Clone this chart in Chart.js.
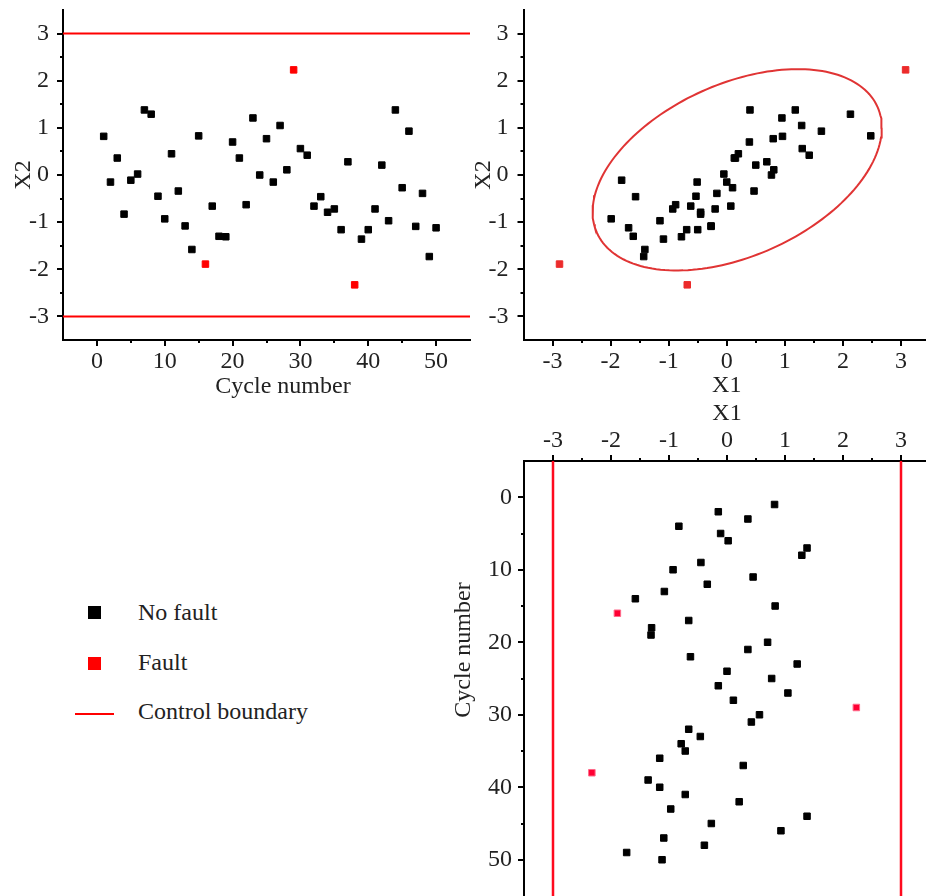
<!DOCTYPE html>
<html>
<head>
<meta charset="utf-8">
<script src="https://cdn.jsdelivr.net/npm/chart.js@4.4.1/dist/chart.umd.min.js"></script>
<style>
  html, body { margin: 0; padding: 0; background: #fff; width: 926px; height: 896px; overflow: hidden; }
  #wrap { position: relative; width: 926px; height: 896px; overflow: hidden; }
  canvas { position: absolute; }
  #panelA { left: 0; top: 0; }
  #panelB { left: 460px; top: 0; }
  #panelC { left: 430px; top: 390px; }
  .legend { position: absolute; font-family: "Liberation Serif", serif; font-size: 24px; line-height: 28px; color: #222; white-space: nowrap; }
  .mark { position: absolute; }
</style>
</head>
<body>
<div id="wrap">
  <canvas id="panelA" width="480" height="410"></canvas>
  <canvas id="panelB" width="480" height="410"></canvas>
  <canvas id="panelC" width="510" height="506"></canvas>

  <div class="mark" style="left:88px;top:606px;width:13px;height:13px;background:#000"></div>
  <div class="legend" style="left:138px;top:598px">No fault</div>
  <div class="mark" style="left:88px;top:657px;width:13px;height:13px;background:#ff0000"></div>
  <div class="legend" style="left:138px;top:648px">Fault</div>
  <div class="mark" style="left:75px;top:713px;width:39px;height:2px;background:#ff0000"></div>
  <div class="legend" style="left:138px;top:697px">Control boundary</div>
</div>

<script>
// Values
const cycles = [1, 2, 3, 4, 5, 6, 7, 8, 9, 10,
  11, 12, 13, 14, 15, 16, 17, 18, 19, 20,
  21, 22, 23, 24, 25, 26, 27, 28, 29, 30,
  31, 32, 33, 34, 35, 36, 37, 38, 39, 40,
  41, 42, 43, 44, 45, 46, 47, 48, 49, 50];
const x2Values = [0.82, -0.15, 0.36, -0.83, -0.11, 0.02, 1.38, 1.29, -0.45, -0.93,
  0.45, -0.34, -1.08, -1.58, 0.83, -1.89, -0.66, -1.30, -1.31, 0.70,
  0.36, -0.63, 1.21, 0.00, 0.77, -0.15, 1.05, 0.11, 2.23, 0.56,
  0.42, -0.66, -0.46, -0.79, -0.72, -1.16, 0.28, -2.33, -1.36, -1.16,
  -0.72, 0.21, -0.97, 1.38, -0.27, 0.93, -1.09, -0.39, -1.73, -1.12];
const x1Values = [0.96, 0.00, 0.13, -0.45, -1.81, -0.05, 0.40, 2.13, -0.53, -1.99,
  0.20, 0.47, -0.27, -1.41, 2.48, -2.88, -0.62, -1.61, -0.78, 0.39,
  0.15, -0.88, 0.95, 0.77, 0.80, -0.51, 1.29, 0.81, 3.08, 1.30,
  1.42, 0.07, -1.57, -0.45, -0.93, -0.69, 0.69, -0.68, -1.09, -0.50,
  -0.20, 0.50, -1.15, 1.18, 0.10, 1.63, -0.27, -0.17, -1.43, -1.69];
const faultCycles = [16, 29, 38];
const controlLimits = [-3, 3];

// axes
const cycleRange = [-5, 55];
const valueRange = [-3.5, 3.5];
const cycleTicks = [0, 10, 20, 30, 40, 50];
const cycleMinor = [5, 15, 25, 35, 45];
const valueTicks = [-3, -2, -1, 0, 1, 2, 3];
const valueMinor = [-2.5, -1.5, -0.5, 0.5, 1.5, 2.5];

// control ellipse for (X1, X2)
const ellipseCenter = [0.18, 0.11];
const ellipseCov = [[6.20, 2.22], [2.22, 4.56]];

Chart.defaults.font.family = '"Liberation Serif", serif';
Chart.defaults.font.size = 24;
Chart.defaults.color = '#222';
Chart.defaults.plugins.legend.display = false;
Chart.defaults.plugins.tooltip.enabled = false;

const isFault = c => faultCycles.includes(c);
function points(fx, fy, fault) {
  return cycles.filter(c => isFault(c) === fault).map(c => ({ x: fx(c), y: fy(c) }));
}
const x1 = c => x1Values[c - 1];
const x2 = c => x2Values[c - 1];
const cyc = c => c;

function markers(data, color, border) {
  return {
    data: data, pointStyle: 'rect', pointRadius: 4.6, borderWidth: 1,
    backgroundColor: color, borderColor: border || color
  };
}
function line(data, color, width) {
  return {
    data: data, showLine: true, pointRadius: 0, borderColor: color,
    borderWidth: width, tension: 0, fill: false
  };
}

// build the ellipse outline from center + covariance (Cholesky)
const l11 = Math.sqrt(ellipseCov[0][0]);
const l21 = ellipseCov[1][0] / l11;
const l22 = Math.sqrt(ellipseCov[1][1] - l21 * l21);
const ellipse = [];
for (let i = 0; i <= 180; i++) {
  const t = i / 180 * 2 * Math.PI;
  ellipse.push({
    x: ellipseCenter[0] + l11 * Math.cos(t),
    y: ellipseCenter[1] + l21 * Math.cos(t) + l22 * Math.sin(t)
  });
}

function axis(position, range, major, pad, size, extra) {
  return Object.assign({
    type: 'linear', position: position, min: range[0], max: range[1],
    afterBuildTicks: s => { s.ticks = major.map(v => ({ value: v })); },
    afterFit: s => {
      if (position === 'left') s.width = size; else s.height = size;
      s.paddingTop = s.paddingBottom = s.paddingLeft = s.paddingRight = 0;
    },
    grid: { display: false, drawTicks: false },
    border: { display: true, color: '#000', width: 2 },
    ticks: { padding: pad, autoSkip: false, maxRotation: 0, color: '#222' }
  }, extra || {});
}

// major + minor tick marks, drawn outwards
function tickMarks(spec) {
  return {
    id: 'tickMarks',
    afterDraw(chart) {
      const ctx = chart.ctx;
      ctx.save();
      ctx.strokeStyle = '#000';
      ctx.lineWidth = 2;
      Object.keys(spec).forEach(id => {
        const s = chart.scales[id];
        [[spec[id][0], 6], [spec[id][1], 3]].forEach(([vals, len]) => {
          vals.forEach(v => {
            const p = Math.round(s.getPixelForValue(v));
            ctx.beginPath();
            if (s.position === 'left') { ctx.moveTo(s.right, p); ctx.lineTo(s.right - len, p); }
            else if (s.position === 'bottom') { ctx.moveTo(p, s.top); ctx.lineTo(p, s.top + len); }
            else { ctx.moveTo(p, s.bottom); ctx.lineTo(p, s.bottom - len); }
            ctx.stroke();
          });
        });
      });
      ctx.restore();
    }
  };
}

// axis titles that are not centred on the axis
function freeTitle(text, x, y, rot) {
  return {
    id: 'freeTitle',
    afterDraw(chart) {
      const ctx = chart.ctx;
      ctx.save();
      ctx.font = '24px "Liberation Serif", serif';
      ctx.fillStyle = '#222';
      ctx.textAlign = 'center';
      ctx.textBaseline = 'middle';
      ctx.translate(x, y);
      ctx.rotate(rot);
      ctx.fillText(text, 0, 0);
      ctx.restore();
    }
  };
}

const common = { responsive: false, animation: false, events: [] };

// top left: X2 against cycle number
new Chart(document.getElementById('panelA'), {
  type: 'scatter',
  data: {
    datasets: [
      markers(points(cyc, x2, false), '#000'),
      markers(points(cyc, x2, true), '#ff0000'),
      line([{ x: cycleRange[0], y: controlLimits[1] }, { x: cycleRange[1], y: controlLimits[1] }], '#ff0000', 2),
      line([{ x: cycleRange[0], y: controlLimits[0] }, { x: cycleRange[1], y: controlLimits[0] }], '#ff0000', 2)
    ]
  },
  options: Object.assign({
    layout: { autoPadding: false, padding: { top: 10, right: 10, left: 0, bottom: 0 } },
    scales: {
      x: axis('bottom', cycleRange, cycleTicks, 7, 70),
      y: axis('left', valueRange, valueTicks, 14, 63,
        { title: { display: true, text: 'X2', padding: { top: 9.8 } } })
    }
  }, common),
  plugins: [tickMarks({ x: [cycleTicks, cycleMinor], y: [valueTicks, valueMinor] }),
    freeTitle('Cycle number', 283, 387, 0)]
});

// top right: X2 against X1 with the control ellipse
new Chart(document.getElementById('panelB'), {
  type: 'scatter',
  data: {
    datasets: [
      markers(points(x1, x2, false), '#000'),
      markers(points(x1, x2, true), '#ec2b2b'),
      line(ellipse, '#e03434', 2)
    ]
  },
  options: Object.assign({
    layout: { autoPadding: false, padding: { top: 10, right: 10, left: 0, bottom: 0 } },
    scales: {
      x: axis('bottom', valueRange, valueTicks, 7, 70,
        { title: { display: true, text: 'X1', padding: { bottom: 9.6 } } }),
      y: axis('left', valueRange, valueTicks, 15, 63.5,
        { title: { display: true, text: 'X2', padding: { top: 9.8 } } })
    }
  }, common),
  plugins: [tickMarks({ x: [valueTicks, valueMinor], y: [valueTicks, valueMinor] })]
});

// bottom right: cycle number against X1, axis on top
new Chart(document.getElementById('panelC'), {
  type: 'scatter',
  data: {
    datasets: [
      markers(points(x2, cyc, false), '#000'),
      markers(points(x2, cyc, true), '#ff0033', '#ff6a8a'),
      line([{ x: controlLimits[0], y: cycleRange[0] }, { x: controlLimits[0], y: cycleRange[1] }], '#ff0a1e', 2.5),
      line([{ x: controlLimits[1], y: cycleRange[0] }, { x: controlLimits[1], y: cycleRange[1] }], '#ff0a1e', 2.5)
    ]
  },
  options: Object.assign({
    layout: { autoPadding: false, padding: { top: 0, right: 10, left: 0, bottom: 0 } },
    scales: {
      x: axis('top', valueRange, valueTicks, 5.6, 71,
        { title: { display: true, text: 'X1', padding: { top: 9.6 } } }),
      y: axis('left', cycleRange, cycleTicks, 12, 94, { reverse: true })
    }
  }, common),
  plugins: [tickMarks({ x: [valueTicks, valueMinor], y: [cycleTicks, cycleMinor] }),
    freeTitle('Cycle number', 34, 260, -Math.PI / 2)]
});
</script>
</body>
</html>
